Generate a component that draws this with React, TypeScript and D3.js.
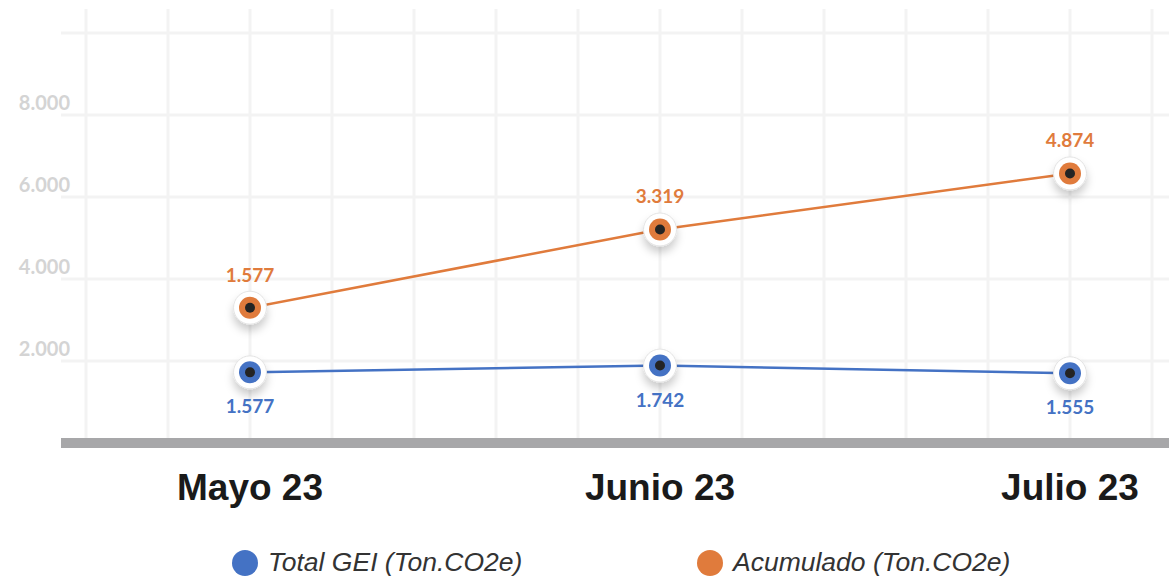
import React, { useEffect, useRef } from 'react';
import * as d3 from 'd3';

const months = ['Mayo 23', 'Junio 23', 'Julio 23'];
const totalGEI = [1577, 1742, 1555];
const acumulado = [1577, 3319, 4874];
const yTicks = [0, 2000, 4000, 6000, 8000, 10000];
const yTickLabels = ['', '2.000', '4.000', '6.000', '8.000', ''];
const seriesNames = ['Total GEI (Ton.CO2e)', 'Acumulado (Ton.CO2e)'];

const BLUE = '#4472C4';
const ORANGE = '#E07B3C';

const fmt = (v: number) => d3.format(',')(v).replace(/,/g, '.');

const App: React.FC = () => {
  const svgRef = useRef<SVGSVGElement | null>(null);

  useEffect(() => {
    if (!svgRef.current) return;
    const svg = d3.select(svgRef.current);
    svg.selectAll('*').remove();

    const width = 1169;
    // gridlines sit a few px under their tick value (as in the source image)
    const gridOff = 6;

    // index scale: categories at 0,1,2
    const x = d3.scaleLinear().domain([0, 2]).range([250, 1070]);
    const y = d3.scaleLinear().domain([0, 10000]).range([437, 27]);

    const defs = svg.append('defs');
    const f = defs.append('filter').attr('id', 'shadow')
      .attr('x', '-80%').attr('y', '-80%').attr('width', '260%').attr('height', '280%');
    f.append('feDropShadow')
      .attr('dx', 0).attr('dy', 6).attr('stdDeviation', 4)
      .attr('flood-color', '#000').attr('flood-opacity', 0.2);

    // grid
    const grid = svg.append('g');
    const vx = d3.range(-0.4, 2.3, 0.2);
    grid.selectAll('.vg').data(vx).enter().append('line')
      .attr('x1', d => x(d)).attr('x2', d => x(d))
      .attr('y1', 9).attr('y2', 440)
      .attr('stroke', '#f3f3f3').attr('stroke-width', 3);
    grid.selectAll('.hg').data(yTicks.slice(1)).enter().append('line')
      .attr('x1', 61).attr('x2', width)
      .attr('y1', d => y(d) + gridOff).attr('y2', d => y(d) + gridOff)
      .attr('stroke', '#f3f3f3').attr('stroke-width', 3);

    // y labels
    svg.append('g').selectAll('text').data(yTicks).enter().append('text')
      .attr('x', 70).attr('y', d => y(d) + 1)
      .attr('text-anchor', 'end')
      .attr('font-family', 'Lato, "Noto Sans", sans-serif')
      .attr('font-weight', 700).attr('font-size', 20)
      .attr('fill', '#d4d4d4')
      .text((d, i) => yTickLabels[i]);

    // axis bar
    svg.append('rect')
      .attr('x', 61).attr('y', y(0) + gridOff - 5).attr('width', width - 61).attr('height', 10)
      .attr('fill', '#a7a7a9');

    // categories
    svg.append('g').selectAll('text').data(months).enter().append('text')
      .attr('x', (d, i) => x(i)).attr('y', 500)
      .attr('text-anchor', 'middle')
      .attr('font-family', '"Liberation Sans", Arial, sans-serif')
      .attr('font-weight', 700).attr('font-size', 37)
      .attr('fill', '#1a1a1a')
      .text(d => d);

    // stacked line values
    const stacked = acumulado.map((v, i) => v + totalGEI[i]);
    const line = d3.line<number>().x((d, i) => x(i)).y(d => y(d));

    const series = [
      { vals: totalGEI, color: BLUE, labels: totalGEI, below: true },
      { vals: stacked, color: ORANGE, labels: acumulado, below: false },
    ];

    series.forEach(s => {
      svg.append('path').datum(s.vals)
        .attr('d', line)
        .attr('fill', 'none').attr('stroke', s.color).attr('stroke-width', 2.5);
    });

    series.forEach(s => {
      const g = svg.append('g');
      const m = g.selectAll('.m').data(s.vals).enter().append('g')
        .attr('transform', (d, i) => `translate(${x(i)},${y(d)})`);
      m.append('circle').attr('r', 16.5).attr('fill', '#fff')
        .attr('stroke', '#e3e3e3').attr('stroke-width', 1)
        .attr('filter', 'url(#shadow)');
      m.append('circle').attr('r', 11).attr('fill', s.color);
      m.append('circle').attr('r', 5).attr('fill', '#242424');
      m.append('text')
        .attr('y', s.below ? 41 : -26)
        .attr('text-anchor', 'middle')
        .attr('font-family', 'Lato, "Noto Sans", sans-serif')
        .attr('font-weight', 700).attr('font-size', 19)
        .attr('fill', s.color)
        .text((d, i) => fmt(s.labels[i]));
    });

    // legend
    const legend = svg.append('g');
    const lx = [245, 710];
    const colors = [BLUE, ORANGE];
    seriesNames.forEach((n, i) => {
      legend.append('circle').attr('cx', lx[i]).attr('cy', 563).attr('r', 13).attr('fill', colors[i]);
      legend.append('text')
        .attr('x', lx[i] + 23).attr('y', 571)
        .attr('font-family', '"Liberation Sans", Arial, sans-serif')
        .attr('font-style', 'italic').attr('font-size', 26.5)
        .attr('fill', '#333')
        .text(n);
    });
  }, []);

  return (
    <svg ref={svgRef} width={1169} height={576}
      style={{ position: 'absolute', left: 0, top: 0, background: '#fff' }} />
  );
};

export default App;
